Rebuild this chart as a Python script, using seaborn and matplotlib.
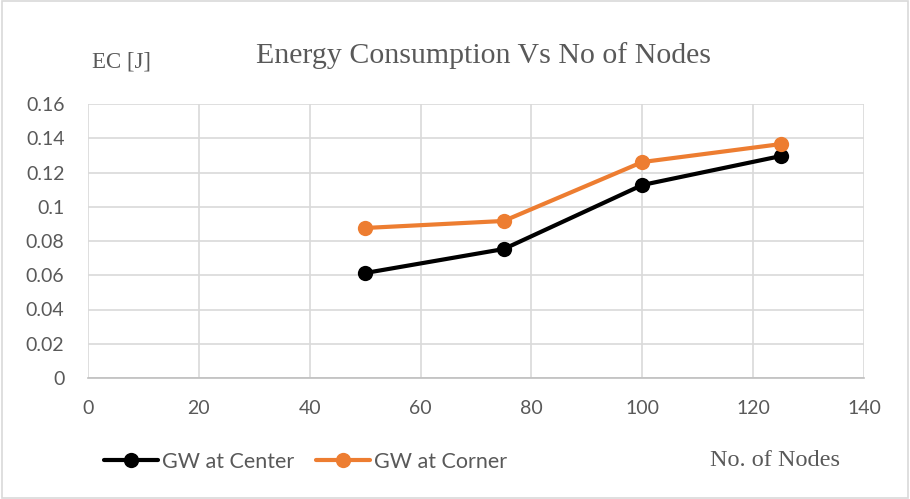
import matplotlib
matplotlib.use("Agg")
import matplotlib.pyplot as plt
import pandas as pd
import seaborn as sns
from matplotlib.lines import Line2D
from matplotlib.patches import Rectangle

nodes = [50, 75, 100, 125]
ec_center = [0.0613, 0.0753, 0.1127, 0.1296]
ec_corner = [0.0876, 0.0917, 0.1261, 0.1366]
series_names = ["GW at Center", "GW at Corner"]
x_ticks = [0, 20, 40, 60, 80, 100, 120, 140]
y_ticks = [0, 0.02, 0.04, 0.06, 0.08, 0.1, 0.12, 0.14, 0.16]
y_tick_labels = ["0", "0.02", "0.04", "0.06", "0.08", "0.1", "0.12", "0.14", "0.16"]

df = pd.DataFrame({
    "Nodes": nodes * 2,
    "EC": ec_center + ec_corner,
    "Series": [series_names[0]] * len(nodes) + [series_names[1]] * len(nodes),
})

sns.set_style("white")
plt.rcParams["font.family"] = ["Lato", "DejaVu Sans"]

fig = plt.figure(figsize=(9.1, 4.99), dpi=100)
ax = fig.add_axes([88 / 910, 121 / 499, 776 / 910, 274 / 499])

palette = {series_names[0]: "#000000", series_names[1]: "#ED7D31"}
sns.lineplot(data=df, x="Nodes", y="EC", hue="Series", palette=palette,
             marker="o", markersize=11, markeredgewidth=0, linewidth=3,
             ax=ax, legend=False)

ax.set_xlim(0, 140)
ax.set_ylim(0, 0.16)
ax.set_xticks(x_ticks)
ax.set_yticks(y_ticks)
ax.set_yticklabels(y_tick_labels)
ax.grid(True, color="#D9D9D9", linewidth=1.2)
ax.set_axisbelow(True)
for side in ["top", "right", "left"]:
    ax.spines[side].set_visible(False)
ax.spines["bottom"].set_color("#BFBFBF")
ax.spines["bottom"].set_linewidth(1.2)
ax.tick_params(axis="both", length=0, labelsize=14, labelcolor="#595959")
ax.tick_params(axis="y", pad=17)
ax.tick_params(axis="x", pad=16)
ax.set_xlabel("")
ax.set_ylabel("")

# titles in serif like the original
fig.text(483 / 910, 1 - 56 / 499, "Energy Consumption Vs No of Nodes", ha="center", va="center",
         fontsize=21.5, family="Liberation Serif", color="#595959")
fig.text(121 / 910, 1 - 62 / 499, "EC [J]", ha="center", va="center",
         fontsize=16.5, family="Liberation Serif", color="#595959")
fig.text(775 / 910, 1 - 460 / 499, "No. of Nodes", ha="center", va="center",
         fontsize=17.5, family="Liberation Serif", color="#595959")

# legend
handles = [Line2D([], [], color=palette[n], marker="o", markersize=11, linewidth=3,
                  markeredgewidth=0) for n in series_names]
fig.legend(handles, series_names, loc="center left", bbox_to_anchor=(85 / 910, 1 - 462 / 499),
           ncol=2, frameon=False, fontsize=15.5, labelcolor="#595959",
           handlelength=2.5, handletextpad=0.2, columnspacing=1.0)

fig.patches.append(Rectangle((0.002, 0.003), 0.996, 0.994, transform=fig.transFigure,
                             fill=False, edgecolor="#D9D9D9", linewidth=1.2))

fig.savefig("out.png", dpi=100)
